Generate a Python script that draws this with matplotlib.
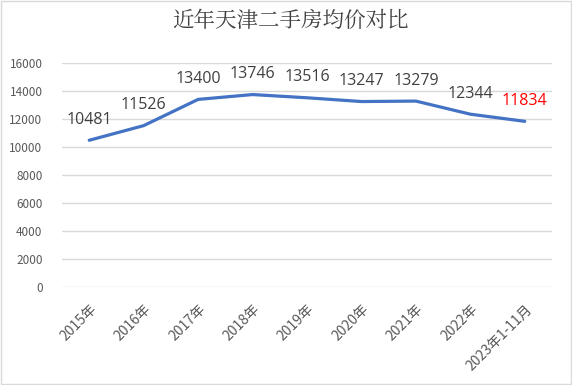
import matplotlib.pyplot as plt
from matplotlib.patches import Rectangle

plt.rcParams['font.family'] = ['Noto Sans CJK SC', 'DejaVu Sans']

years = ['2015年', '2016年', '2017年', '2018年', '2019年', '2020年', '2021年', '2022年', '2023年1-11月']
prices = [10481, 11526, 13400, 13746, 13516, 13247, 13279, 12344, 11834]
label_colors = ['#404040'] * 8 + ['#FF0000']

fig = plt.figure(figsize=(5.72, 3.85), dpi=100)
ax = fig.add_axes([62/572, 1 - 287/385, 490/572, 224/385])

x = list(range(len(years)))
ax.plot(x, prices, color='#4472C4', linewidth=2.3, solid_capstyle='round', zorder=3)

for xi, v, c in zip(x, prices, label_colors):
    ax.annotate(str(v), (xi, v), xytext=(0, 9), textcoords='offset points',
                ha='center', va='bottom', fontsize=11.5, color=c,
                family=['Open Sans', 'DejaVu Sans'])

ax.set_xlim(-0.5, len(years) - 0.5)
ax.set_ylim(0, 16000)
ax.set_yticks(range(0, 16001, 2000))
ax.set_xticks(x)
ax.set_xticklabels(years, rotation=45, ha='right', rotation_mode='anchor',
                   fontsize=10, color='#595959')
ax.tick_params(axis='y', labelsize=8.5, labelcolor='#595959', length=0, pad=14)
ax.tick_params(axis='x', length=0, pad=11)
ax.grid(axis='y', color='#D9D9D9', linewidth=1)
ax.set_axisbelow(True)
for s in ax.spines.values():
    s.set_visible(False)

fig.text(0.507, 0.945, '近年天津二手房均价对比', ha='center', va='center',
         fontsize=15.5, color='#404040', family=['Noto Serif CJK SC', 'Noto Sans CJK SC'])

fig.patches.append(Rectangle((0.002, 0.003), 0.996, 0.994, transform=fig.transFigure,
                             fill=False, edgecolor='#D9D9D9', linewidth=1))

fig.savefig('out.png', dpi=100)
